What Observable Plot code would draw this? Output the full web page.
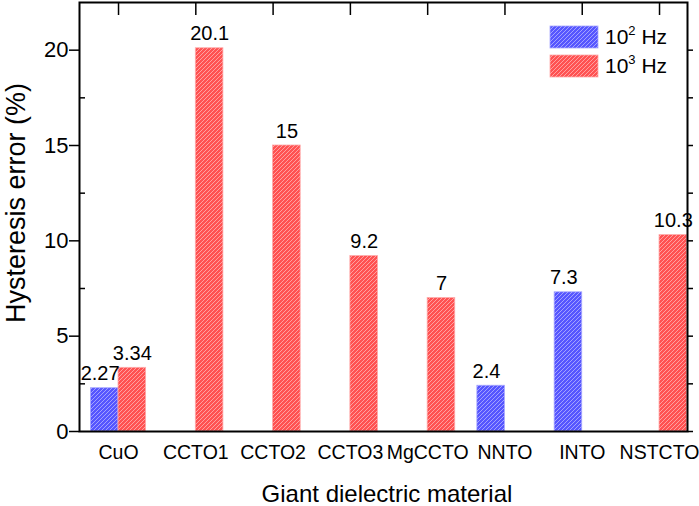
<!DOCTYPE html>
<html>
<head>
<meta charset="utf-8">
<script src="https://cdn.jsdelivr.net/npm/d3@7"></script>
<script src="https://cdn.jsdelivr.net/npm/@observablehq/plot@0.6"></script>
<style>
  html, body { margin: 0; padding: 0; background: #fff; }
  #chart svg { display: block; }
</style>
</head>
<body>
<div id="chart"></div>
<script>
// ---- data ----
const categories = ["CuO", "CCTO1", "CCTO2", "CCTO3", "MgCCTO", "NNTO", "INTO", "NSTCTO"];
const hz2 = [2.27, null, null, null, null, 2.4, 7.3, null];   // 10^2 Hz
const hz3 = [3.34, 20.1, 15, 9.2, 7, null, null, 10.3];       // 10^3 Hz
const labels2 = ["2.27", null, null, null, null, "2.4", "7.3", null];
const labels3 = ["3.34", "20.1", "15", "9.2", "7", null, null, "10.3"];
const yMajor = [0, 5, 10, 15, 20];
const yMinor = [2.5, 7.5, 12.5, 17.5];
const seriesNames = ["10", "10"];
const seriesExp = ["2", "3"];

const FONT = "'Liberation Sans', Arial, Helvetica, sans-serif";
const BW = 0.357;

const rows2 = categories.map((c, i) => ({pos: i + 1, value: hz2[i], label: labels2[i]})).filter(d => d.value != null);
const rows3 = categories.map((c, i) => ({pos: i + 1, value: hz3[i], label: labels3[i]})).filter(d => d.value != null);

const svg = Plot.plot({
  width: 699,
  height: 506,
  marginTop: 2,
  marginLeft: 79,
  marginRight: 12,
  marginBottom: 75,
  style: {fontFamily: FONT, color: "#000", background: "#fff", overflow: "visible"},
  x: {domain: [0.495, 8.362]},
  y: {domain: [0, 22.5]},
  marks: [
    Plot.rect(rows2, {x1: d => d.pos - BW, x2: d => d.pos, y1: 0, y2: "value", fill: "url(#hatchBlue)", stroke: "#a8a8ff", strokeWidth: 0.8}),
    Plot.rect(rows3, {x1: d => d.pos, x2: d => d.pos + BW, y1: 0, y2: "value", fill: "url(#hatchRed)", stroke: "#ffaaaa", strokeWidth: 0.8}),
    Plot.text(rows2, {x: d => d.pos - BW / 2 - 0.06, y: "value", text: "label", dy: -8, lineAnchor: "bottom", fontSize: 20, fill: "#000"}),
    Plot.text(rows3, {x: d => d.pos + BW / 2, y: "value", text: "label", dy: -8, lineAnchor: "bottom", fontSize: 20, fill: "#000"}),
    // left axis: labelled major ticks, inward minor ticks
    Plot.axisY({ticks: yMajor, tickSize: 10, tickPadding: 1, fontSize: 22, label: null, strokeWidth: 1.5}),
    Plot.axisY({ticks: yMinor, tickSize: -6, tickFormat: () => "", label: null, strokeWidth: 1.5}),
    // right axis ticks
    Plot.axisY({anchor: "right", ticks: yMajor.concat(yMinor), tickSize: 5, tickFormat: () => "", label: null, strokeWidth: 1.5}),
    // top axis inward ticks
    Plot.axisX({anchor: "top", ticks: categories.map((c, i) => i + 1), tickSize: -12, tickFormat: () => "", label: null, strokeWidth: 1.5}),
    // bottom category labels
    Plot.axisX({ticks: categories.map((c, i) => i + 1), tickSize: 0, tickPadding: 14, tickFormat: v => categories[v - 1], fontSize: 19.5, label: null}),
    Plot.frame({stroke: "#000", strokeWidth: 2})
  ]
});

const s = d3.select(svg);
const defs = s.insert("defs", ":first-child");
function hatch(id, base) {
  const p = defs.append("pattern").attr("id", id).attr("patternUnits", "userSpaceOnUse")
    .attr("width", 4).attr("height", 4);
  p.append("rect").attr("width", 4).attr("height", 4).attr("fill", base);
  p.append("path").attr("d", "M-1,1 l2,-2 M0,4 l4,-4 M3,5 l2,-2")
    .attr("stroke", "#ffffff").attr("stroke-opacity", 0.5).attr("stroke-width", 0.9);
}
hatch("hatchBlue", "#5656ff");
hatch("hatchRed", "#ff5252");

// axis titles
s.append("text").attr("transform", "translate(25,203) rotate(-90)")
  .attr("text-anchor", "middle").attr("font-family", FONT).attr("font-size", 27)
  .attr("fill", "#000").text("Hysteresis error (%)");
s.append("text").attr("x", 387).attr("y", 502)
  .attr("text-anchor", "middle").attr("font-family", FONT).attr("font-size", 24)
  .attr("fill", "#000").text("Giant dielectric material");

// legend
const fills = ["url(#hatchBlue)", "url(#hatchRed)"];
const strokes = ["#a8a8ff", "#ffaaaa"];
const lg = s.append("g").attr("font-family", FONT).attr("text-anchor", "start");
seriesNames.forEach((n, i) => {
  const y0 = 26 + i * 29;
  lg.append("rect").attr("x", 550).attr("y", y0).attr("width", 48).attr("height", 22)
    .attr("fill", fills[i]).attr("stroke", strokes[i]).attr("stroke-width", 0.8);
  const t = lg.append("text").attr("x", 605).attr("y", y0 + 18).attr("font-size", 21)
    .attr("text-anchor", "start").attr("fill", "#000");
  t.append("tspan").text(n);
  t.append("tspan").attr("font-size", 13).attr("dy", -9).text(seriesExp[i]);
  t.append("tspan").attr("dy", 9).text(" Hz");
});

document.getElementById("chart").appendChild(svg);
</script>
</body>
</html>
